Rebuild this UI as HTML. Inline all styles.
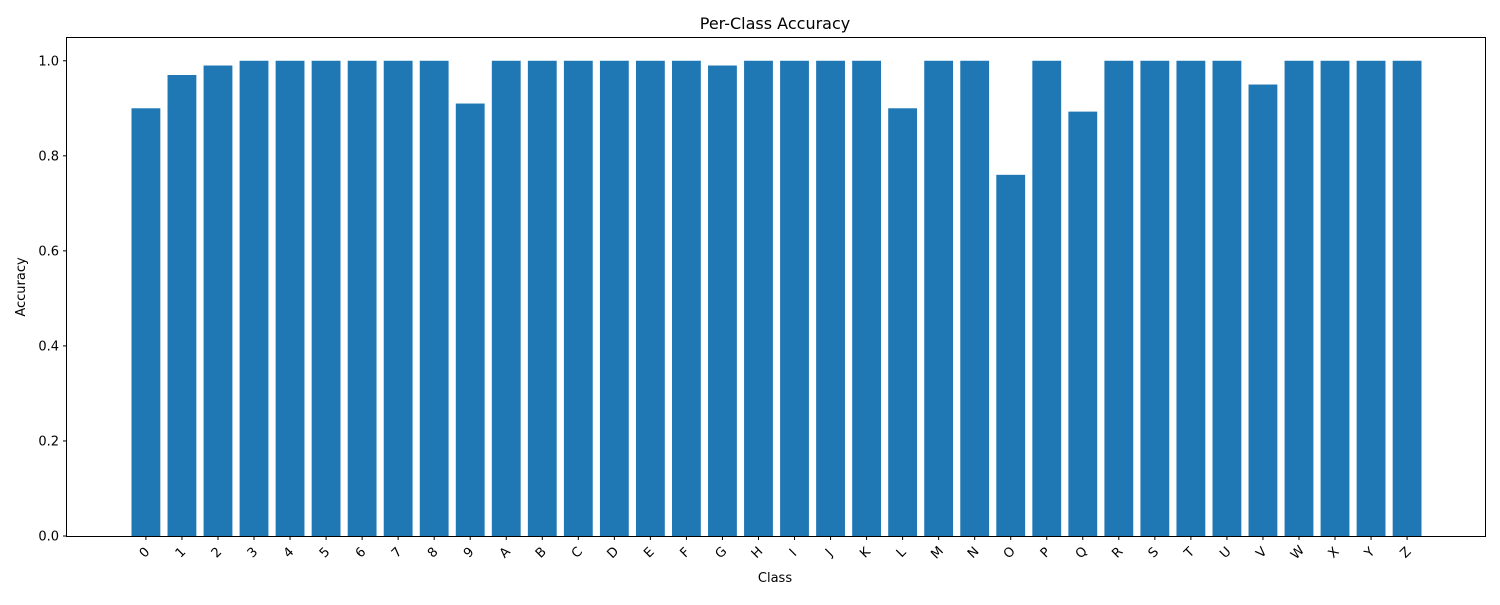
<!DOCTYPE html>
<html><head><meta charset="utf-8"><style>
html,body{margin:0;padding:0;background:#fff;}
svg text{font-family:"DejaVu Sans","Liberation Sans",sans-serif;fill:#000;}
</style></head><body>
<svg id="chart" width="1500" height="600" xmlns="http://www.w3.org/2000/svg">
<text x="775" y="29" font-size="16" text-anchor="middle">Per-Class Accuracy</text>
<text x="775" y="582" font-size="13" text-anchor="middle">Class</text>
<text transform="translate(25,287) rotate(-90)" font-size="13" text-anchor="middle">Accuracy</text>
<g id="bars"></g>
<g id="xticks"></g>
<g id="yticks"></g>
<rect x="66.5" y="37.5" width="1419" height="499" fill="none" stroke="#000" stroke-width="1"/>
</svg>
<script>
const categories = ["0","1","2","3","4","5","6","7","8","9","A","B","C","D","E","F","G","H","I","J","K","L","M","N","O","P","Q","R","S","T","U","V","W","X","Y","Z"];
const accuracy = [0.90,0.97,0.99,1,1,1,1,1,1,0.91,1,1,1,1,1,1,0.99,1,1,1,1,0.90,1,1,0.76,1,0.893,1,1,1,1,0.95,1,1,1,1];
const yTickLabels = ["0.0","0.2","0.4","0.6","0.8","1.0"];
const yTickValues = [0,0.2,0.4,0.6,0.8,1.0];

const NS="http://www.w3.org/2000/svg";
const L=67,R=1486,T=37,B=536;
const n=categories.length;
const xmin=-0.4-0.05*(n-0.2), xmax=n-1+0.4+0.05*(n-0.2);
const ymax=1.05;
function xs(v){return L+(v-xmin)/(xmax-xmin)*(R-L);}
function ys(v){return B-v/ymax*(B-T);}
const bars=document.getElementById('bars');
const xt=document.getElementById('xticks');
const yt=document.getElementById('yticks');
categories.forEach((c,i)=>{
  const r=document.createElementNS(NS,'rect');
  const x0=xs(i-0.4),x1=xs(i+0.4);
  r.setAttribute('x',x0);r.setAttribute('width',x1-x0);
  r.setAttribute('y',ys(accuracy[i]));r.setAttribute('height',ys(0)-ys(accuracy[i]));
  r.setAttribute('fill','#1f77b4');
  
  
  bars.appendChild(r);
  const cx=xs(i);
  const tk=document.createElementNS(NS,'line');
  tk.setAttribute('x1',cx);tk.setAttribute('x2',cx);tk.setAttribute('y1',B);tk.setAttribute('y2',B+4);
  tk.setAttribute('stroke','#000');
  
  
  xt.appendChild(tk);
  const t=document.createElementNS(NS,'text');
  t.setAttribute('transform','translate('+(cx-1)+','+(B+17)+') rotate(-45)');
  t.setAttribute('font-size','13');t.setAttribute('text-anchor','middle');t.setAttribute('dominant-baseline','middle');
  t.textContent=c;
  
  
  xt.appendChild(t);
});
yTickValues.forEach((v,i)=>{
  const y=ys(v);
  const tk=document.createElementNS(NS,'line');
  tk.setAttribute('x1',L-4);tk.setAttribute('x2',L);tk.setAttribute('y1',y);tk.setAttribute('y2',y);
  tk.setAttribute('stroke','#000');
  
  
  yt.appendChild(tk);
  const t=document.createElementNS(NS,'text');
  t.setAttribute('x',L-8);t.setAttribute('y',y+4.5);
  t.setAttribute('font-size','13');t.setAttribute('text-anchor','end');
  t.textContent=yTickLabels[i];
  
  
  yt.appendChild(t);
});
</script>
</body></html>
